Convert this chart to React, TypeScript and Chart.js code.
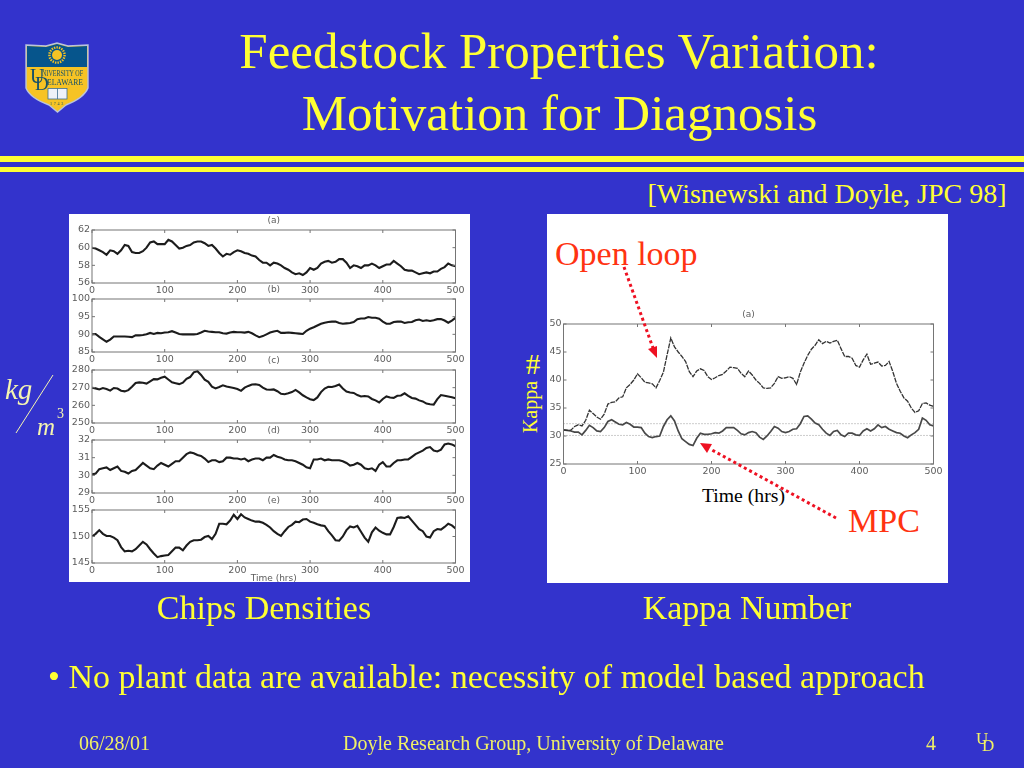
import React, { useEffect, useRef } from "react";
import { Chart, registerables } from "chart.js";

Chart.register(...registerables);

const hours = [0,5,10,15,20,25,30,35,40,45,50,55,60,65,70,75,80,85,90,95,100,105,110,115,120,125,130,135,140,145,150,155,160,165,170,175,180,185,190,195,200,205,210,215,220,225,230,235,240,245,250,255,260,265,270,275,280,285,290,295,300,305,310,315,320,325,330,335,340,345,350,355,360,365,370,375,380,385,390,395,400,405,410,415,420,425,430,435,440,445,450,455,460,465,470,475,480,485,490,495,500];

const densityA = [60,59.9,59.7,59.5,59.2,59.7,59.6,59.3,59.7,60.3,60.2,59.5,59.4,59.4,59.6,60,60.6,60.7,60.4,60.4,60.4,60.9,60.7,60.3,59.9,60,60.2,60.3,60.6,60.7,60.7,60.5,60.2,60.3,59.9,59.4,59,59.3,59.2,59.5,59.7,59.6,59.4,59.3,59.1,59,58.6,58.3,58.3,58,58.3,58.2,58,57.7,57.5,57.2,57,57.1,56.9,57.2,57.7,57.5,57.7,58.2,58.4,58.5,58.3,58.4,58.7,58.7,58.3,57.7,58,57.9,57.7,58,58,58.2,58,57.7,57.9,58.1,58.1,58.5,58.2,57.9,57.5,57.4,57.4,57.2,57,57.1,57.2,57.1,57.3,57.3,57.6,57.8,58.2,58,57.9];
const densityB = [90,90.1,89.3,88.6,87.9,88.5,89.4,89.4,89.4,89.4,89.3,89.2,89.7,89.7,89.8,90,90.4,90.1,90.4,90.3,90.5,90.6,90.9,90.5,90.1,90,90,90,90,90.1,90.5,91,90.8,90.7,90.6,90.6,90.3,90.2,90.5,90.7,90.6,90.6,90.5,90.7,90.3,89.7,89.2,89.5,90,90.5,90.8,91,90.4,90.4,90.5,90.4,90.3,90.2,90.1,91,91.6,92,92.5,93,93.3,93.5,93.6,93.6,93.2,93,93.1,93.2,93.5,94.3,94.5,94.5,94.9,94.7,94.7,94.4,93.6,93,93,93.5,93.6,93.6,93.2,93.4,93.5,94,94.2,93.8,94,93.8,94,94.3,94.3,93.9,93.3,93.9,94.7];
const densityC = [270,269.6,269,269.8,269.2,268.3,269.8,269.5,268.3,267.9,268.6,270.5,272.6,273,272.8,272.3,273.6,274.8,274.7,275.6,276.2,274.6,273,272.5,272,272.8,275,276,278.7,279.3,277.2,274.5,273.3,270.6,269.6,270.4,271.3,270.6,270.2,269.8,269.2,268.2,270,271,271.8,271.9,271.5,270,269,268.8,269,268,266.5,266.3,266.8,267.5,268.7,267.3,265.7,264.5,263.5,263,264.5,267.5,269.5,270.5,270.4,270.9,271.8,269.5,267.8,267.3,267,265.8,265,265.3,265,263.6,262.8,261.6,263.6,265,264.4,264.2,265.4,265.6,266.8,265.4,264.2,263.8,262.8,262.2,261,260.6,260.4,263.5,265.8,265.4,265,264.6,264];
const densityD = [30.05,30.1,30.35,30.4,30.45,30.3,30.4,30.5,30.25,30.2,30.1,30.25,30.3,30.5,30.7,30.55,30.4,30.35,30.55,30.7,30.6,30.5,30.65,30.8,30.8,31,31.2,31.3,31.25,31.15,31.1,30.95,30.75,30.85,30.85,30.75,30.8,31,31,30.95,30.95,30.9,30.95,30.8,30.9,30.95,30.95,30.85,31,31,31.15,31.05,31,30.9,30.85,30.85,30.8,30.7,30.6,30.45,30.4,30.9,30.9,30.95,30.85,30.9,30.85,30.85,30.85,30.8,30.7,30.55,30.6,30.7,30.6,30.4,30.35,30.4,30.25,30.6,30.75,30.5,30.5,30.7,30.85,30.85,30.9,30.9,31.05,31.2,31.3,31.4,31.55,31.6,31.4,31.35,31.45,31.75,31.8,31.75,31.65];
const densityE = [150,150.5,151.2,150.5,150.1,150.1,149.8,149.3,148,147.2,147.3,147.2,147.6,148.3,149,148.5,147.6,146.8,146.1,146.3,146.4,146.5,147.2,147.9,147.9,147.4,148.3,149,149.3,149.3,149.4,149.9,150.1,149.5,150.5,152.4,152.4,152.3,153,154.1,153.3,154.2,153.6,153.3,153,152.8,152.8,152.6,152.2,151.7,151,150.5,150.1,151,151.8,152.2,152.8,152.7,153.2,153.3,152.8,152.6,152.3,152.1,152,151,150.2,149.3,149.2,150,151.2,151.9,151.7,152,150.9,149.8,149,150.8,151.7,151.1,150.7,150.4,150.4,151.8,153.5,153.6,153.5,153.8,153,152.2,151.4,151,150,149.8,151,151.4,151.3,151.8,152.4,152.1,151.5];
const kappaOpenLoop = [31.1,31,31.05,31.7,32,31.8,32.8,34.6,34,33.4,33,33.9,35.7,36,36.1,36.8,37,38.6,39.2,40,41.1,40.4,39.6,39.5,39.3,38.6,39.9,41.4,44.5,47.5,45.9,45,44.2,43.3,41.5,40.6,41.6,42,41.7,40.6,40.1,40.4,40.8,41,41.6,42.3,42.2,42.1,41.2,40.6,41.6,40.9,40,39.4,38.6,38.5,38.6,39.4,40.6,40.3,40.4,40.6,40.3,39.2,41.4,43,44.4,45.5,46.2,47.2,46.5,46.9,46.6,46.9,47.1,45.6,44.2,44.2,43.9,42.6,42.3,43.6,44.6,42.8,43,43.2,42.5,42.6,43.3,41.5,39.4,38,36.8,36.2,35,34.2,34.5,35.8,35.9,35.5,35.3];
const kappaMpc = [31.1,31,30.9,30.7,30.7,30.2,31,31.9,31.5,30.9,30.8,31.5,32.6,32.9,32.5,32.1,32,32.4,32.1,31.6,31.6,31.5,30.5,29.9,29.7,29.9,30,31.7,32.9,33.6,32.7,30.9,29.5,29,28.5,28.3,29.6,30.5,30.3,30.3,30.4,30.6,30.5,30.9,31.5,31.5,31.5,31,30.4,30.2,30.6,30.8,30.6,29.8,29.4,30,30.8,31.7,31.4,30.8,30.6,30.8,31.2,31.3,32.2,33.5,33.6,33,32.3,32,31.2,30.5,30.1,30.8,31,30.2,29.9,30.5,30.5,30.2,30.1,30.9,31.3,30.9,31.3,32,31.5,31.7,31.2,30.9,30.6,30.5,30,29.7,30.2,30.6,31.2,33.2,32.8,32,31.8];
const kappaUpperLimit = 32.2;
const kappaLowerLimit = 30.1;

const tickFont = '"DejaVu Sans"';
const axisGray = "#757575";
const labelGray = "#5c5c5c";

type Series = { data: number[]; width: number; color: string; dash?: number[] };
type Panel = {
  title: string;
  yMin: number; yMax: number; yStep: number;
  series: Series[];
  limits?: number[];
  xTitle?: string;
  box: { left: number; top: number; width: number; height: number };
  area: { left: number; right: number; bottomH: number };
};

const leftBox = (top: number, plotH: number, extra = 0) => ({ left: 69, top: top - 16, width: 401, height: 16 + plotH + 13 + extra });
const leftArea = (extra = 0) => ({ left: 23, right: 14.5, bottomH: 13 + extra });
const thick = (data: number[]): Series => ({ data, width: 2.1, color: "#1c1c1c" });

const panels: Panel[] = [
  { title: "(a)", yMin: 56, yMax: 62, yStep: 2, series: [thick(densityA)], box: leftBox(229.5, 53), area: leftArea() },
  { title: "(b)", yMin: 85, yMax: 100, yStep: 5, series: [thick(densityB)], box: leftBox(299, 53), area: leftArea() },
  { title: "(c)", yMin: 250, yMax: 280, yStep: 10, series: [thick(densityC)], box: leftBox(369.5, 53), area: leftArea() },
  { title: "(d)", yMin: 29, yMax: 32, yStep: 1, series: [thick(densityD)], box: leftBox(439.5, 53), area: leftArea() },
  { title: "(e)", yMin: 145, yMax: 155, yStep: 5, series: [thick(densityE)], xTitle: "Time (hrs)", box: leftBox(509.5, 53, 7), area: leftArea(7) },
  {
    title: "(a)", yMin: 25, yMax: 50, yStep: 5,
    series: [
      { data: kappaOpenLoop, width: 1.3, color: "#333333", dash: [5, 1] },
      { data: kappaMpc, width: 1.7, color: "#484848" },
    ],
    limits: [kappaUpperLimit, kappaLowerLimit],
    box: { left: 547, top: 323.5 - 16, width: 401, height: 16 + 140 + 13 },
    area: { left: 16.5, right: 14.5, bottomH: 13 },
  },
];

const frameAndTicks = {
  id: "frameAndTicks",
  afterDatasetsDraw(chart: any) {
    const { ctx, chartArea: a, scales } = chart;
    ctx.save();
    ctx.strokeStyle = axisGray;
    ctx.lineWidth = 1;
    ctx.strokeRect(a.left, a.top, a.right - a.left, a.bottom - a.top);
    ctx.beginPath();
    scales.x.ticks.forEach((_: any, i: number) => {
      const px = scales.x.getPixelForTick(i);
      ctx.moveTo(px, a.top); ctx.lineTo(px, a.top + 3);
      ctx.moveTo(px, a.bottom); ctx.lineTo(px, a.bottom - 3);
    });
    scales.y.ticks.forEach((_: any, i: number) => {
      const py = scales.y.getPixelForTick(i);
      ctx.moveTo(a.left, py); ctx.lineTo(a.left + 3, py);
      ctx.moveTo(a.right, py); ctx.lineTo(a.right - 3, py);
    });
    ctx.stroke();
    ctx.restore();
  },
};

function PanelChart({ panel }: { panel: Panel }) {
  const ref = useRef<HTMLCanvasElement>(null);
  useEffect(() => {
    const datasets: any[] = panel.series.map((s) => ({
      data: s.data.map((y, i) => ({ x: hours[i], y })),
      borderColor: s.color,
      borderWidth: s.width,
      borderDash: s.dash ?? [],
      pointRadius: 0,
      tension: 0,
    }));
    (panel.limits ?? []).forEach((v) => {
      datasets.push({
        data: [{ x: hours[0], y: v }, { x: hours[hours.length - 1], y: v }],
        borderColor: "#9a9a9a",
        borderWidth: 1,
        borderDash: [1, 2],
        pointRadius: 0,
      });
    });
    const chart = new Chart(ref.current!, {
      type: "line",
      data: { datasets },
      plugins: [frameAndTicks],
      options: {
        animation: false,
        responsive: false,
        devicePixelRatio: 1,
        layout: { autoPadding: false, padding: { left: 0, right: panel.area.right, top: 0, bottom: 0 } },
        plugins: {
          legend: { display: false },
          tooltip: { enabled: false },
          title: {
            display: true,
            fullSize: false,
            text: panel.title,
            color: labelGray,
            font: { family: tickFont, size: 9, weight: "normal", lineHeight: 1 },
            padding: { top: 2, bottom: 5 },
          },
        },
        scales: {
          x: {
            type: "linear",
            min: 0,
            max: 500,
            grid: { display: false, drawTicks: false },
            border: { display: false },
            ticks: { stepSize: 100, padding: 2, maxRotation: 0, color: labelGray, font: { family: tickFont, size: 9.5 } },
            title: {
              display: !!panel.xTitle,
              text: panel.xTitle ?? "",
              color: labelGray,
              padding: 0,
              font: { family: tickFont, size: 9, weight: "normal", lineHeight: 1 },
            },
            afterFit: (s: any) => { s.height = panel.area.bottomH; },
          },
          y: {
            min: panel.yMin,
            max: panel.yMax,
            grid: { display: false, drawTicks: false },
            border: { display: false },
            ticks: { stepSize: panel.yStep, padding: 2, color: labelGray, font: { family: tickFont, size: 9.5 } },
            afterFit: (s: any) => { s.width = panel.area.left; },
          },
        },
      },
    } as any);
    return () => chart.destroy();
  }, [panel]);
  const b = panel.box;
  return (
    <canvas
      ref={ref}
      width={b.width}
      height={b.height}
      style={{ position: "absolute", left: b.left, top: b.top, width: b.width, height: b.height, filter: "blur(0.6px)" }}
    />
  );
}

const serif = '"Liberation Serif", serif';
const yellow = "#ffff33";
const red = "#ff3311";
const pale = "#f5f5b0";
const footer = "#f0f066";

function Txt(p: { x: number; y: number; size: number; color?: string; center?: boolean; italic?: boolean; children: React.ReactNode }) {
  return (
    <div
      style={{
        position: "absolute",
        left: p.x,
        top: p.y,
        transform: p.center ? "translate(-50%,-50%)" : "translateY(-50%)",
        fontFamily: serif,
        fontSize: p.size,
        fontStyle: p.italic ? "italic" : "normal",
        color: p.color ?? yellow,
        whiteSpace: "nowrap",
        lineHeight: 1,
      }}
    >
      {p.children}
    </div>
  );
}

function Logo() {
  return (
    <svg style={{ position: "absolute", left: 22, top: 40, filter: "blur(0.3px)" }} width={70} height={76} viewBox="22 40 70 76">
      <path d="M26 45 L46 46 L57 43 L68 46 L88 45 L88 88 Q84 98 66 105 L57.5 112 L49 105 Q30 98 26 88 Z" fill="#f6c324" stroke="#b9c4dc" strokeWidth="1.4" />
      <path d="M27 46 L46 47 L57 44 L68 47 L87 46 L87 67 L27 67 Z" fill="#06558c" />
      <circle cx="57" cy="55" r="5" fill="#f6c324" />
      <circle cx="57" cy="55" r="7.6" fill="none" stroke="#f6c324" strokeWidth="2.4" strokeDasharray="1.4 1.1" />
      <text x="30" y="83" fontFamily={serif} fontSize="20" fill="#14506a">U</text>
      <text x="35" y="90" fontFamily={serif} fontSize="19" fill="#14506a">D</text>
      <text x="42" y="76" fontFamily={serif} fontSize="7.4" fill="#14506a" textLength="41" lengthAdjust="spacingAndGlyphs">NIVERSITY OF</text>
      <text x="47" y="85" fontFamily={serif} fontSize="8.6" fill="#14506a" textLength="36" lengthAdjust="spacingAndGlyphs">ELAWARE</text>
      <rect x="48" y="88.5" width="19" height="10.5" fill="#eef2f8" stroke="#3d6f90" strokeWidth="0.8" />
      <line x1="57.5" y1="88.5" x2="57.5" y2="99" stroke="#3d6f90" strokeWidth="0.8" />
      <text x="57.5" y="105" fontFamily={serif} fontSize="4.2" fill="#14506a" textAnchor="middle" letterSpacing="1.6">1743</text>
    </svg>
  );
}

function Arrows() {
  return (
    <svg style={{ position: "absolute", left: 0, top: 0 }} width={1024} height={768}>
      <g stroke="#ee1122" strokeWidth="3" strokeDasharray="3 3" fill="none">
        <line x1="624" y1="267" x2="653" y2="348" />
        <line x1="836" y1="518" x2="712" y2="450" />
      </g>
      <polygon points="657,358 648,349 657,346" fill="#ee1122" />
      <polygon points="700,443 712,444 707,453" fill="#ee1122" />
      <line x1="53" y1="375" x2="16" y2="433" stroke={pale} strokeWidth="1" />
    </svg>
  );
}

export default function App() {
  return (
    <div style={{ position: "fixed", left: 0, top: 0, width: 1024, height: 768, background: "#3333cc", overflow: "hidden" }}>
      <Logo />
      <Txt x={559} y={51} size={51} center>Feedstock Properties Variation:</Txt>
      <Txt x={559.5} y={113} size={51} center>Motivation for Diagnosis</Txt>
      <div style={{ position: "absolute", left: 0, top: 156, width: 1024, height: 5.5, background: yellow }} />
      <div style={{ position: "absolute", left: 0, top: 167, width: 1024, height: 5, background: yellow }} />
      <Txt x={827} y={194} size={28} center>[Wisnewski and Doyle, JPC 98]</Txt>

      <div style={{ position: "absolute", left: 69, top: 214, width: 401, height: 368, background: "#fff" }} />
      <div style={{ position: "absolute", left: 547, top: 214, width: 401, height: 369, background: "#fff" }} />
      {panels.map((p, i) => <PanelChart key={i} panel={p} />)}

      <Txt x={702} y={496} size={19.7} color="#000">Time (hrs)</Txt>
      <Txt x={555} y={254} size={34} color={red}>Open loop</Txt>
      <Txt x={848} y={521} size={34} color={red}>MPC</Txt>
      <div style={{ position: "absolute", left: 530, top: 407, transform: "translate(-50%,-50%) rotate(-90deg)", fontFamily: serif, fontSize: 20, color: yellow, whiteSpace: "nowrap", lineHeight: 1 }}>
        Kappa
      </div>
      <Txt x={533} y={364} size={29} center>#</Txt>
      <Arrows />

      <Txt x={5} y={389} size={29} italic color={pale}>kg</Txt>
      <Txt x={37} y={426} size={25} italic color={pale}>m</Txt>
      <Txt x={57} y={414} size={14} color={pale}>3</Txt>

      <Txt x={264} y={608} size={34} center>Chips Densities</Txt>
      <Txt x={747} y={608} size={34} center>Kappa Number</Txt>
      <Txt x={48} y={677} size={34}>• No plant data are available: necessity of model based approach</Txt>

      <Txt x={79} y={743} size={20} color={footer}>06/28/01</Txt>
      <Txt x={533.5} y={743} size={20} center color={footer}>Doyle Research Group, University of Delaware</Txt>
      <Txt x={926} y={743} size={20} color={footer}>4</Txt>
      <Txt x={976} y={738} size={17} color={footer}>U</Txt>
      <Txt x={982} y={745} size={17} color={footer}>D</Txt>
    </div>
  );
}
